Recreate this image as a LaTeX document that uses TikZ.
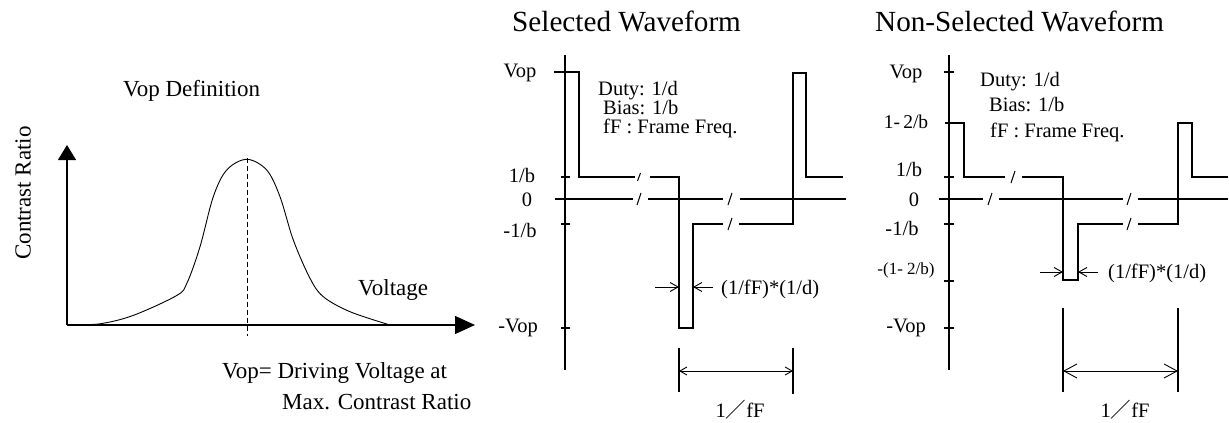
\documentclass[tikz,border=0pt]{standalone}
\usepackage{fontspec}
\setmainfont{Liberation Serif}
\newfontfamily\cjk{Noto Sans CJK SC}
\usetikzlibrary{arrows.meta}
\begin{document}
\begin{tikzpicture}[x=1pt,y=-1pt,
  wave/.style={line width=1.1pt, line join=miter},
  slashmk/.style={line width=1pt},
  txt/.style={inner sep=0pt, anchor=base west},
  ctxt/.style={inner sep=0pt, anchor=base},
  bigf/.style={font=\fontsize{23}{26}\selectfont},
  titf/.style={font=\fontsize{29.2}{32}\selectfont},
  lblf/.style={font=\fontsize{20.5}{23}\selectfont},
  smallf/.style={font=\fontsize{17}{19}\selectfont},
  barb/.style={line width=0.9pt, -{Straight Barb[length=8pt,width=9pt]}},
  dimA/.style={line width=0.9pt, {Straight Barb[length=7pt,width=8pt]}-{Straight Barb[length=7pt,width=8pt]}},
  dimB/.style={line width=0.9pt, {Straight Barb[length=13pt,width=14pt]}-{Straight Barb[length=13pt,width=14pt]}}
]
\useasboundingbox (0,0) rectangle (1229,423);

% ================= LEFT PANEL =================
\coordinate (O) at (67,325);
\coordinate (Ytip) at (67,145);
\coordinate (Xtip) at (475,325);
\draw[line width=1.1pt, -{Triangle[length=15pt,width=18pt]}] (O) -- (Ytip);
\draw[line width=1.1pt, -{Triangle[length=20pt,width=18pt]}] (O) -- (Xtip);
\coordinate (Dtop) at (247,158);
\coordinate (Dbot) at (247,336);
\draw[line width=0.9pt, dash pattern=on 5pt off 3pt] (Dtop) -- (Dbot);
\draw[line width=0.9pt] plot[smooth, tension=0.55] coordinates {
  (75,324.5) (100,323.8) (133,315.5) (176.7,295.5) (187,283) (200,246.7)
  (213.3,196.7) (226.7,170) (246.7,159.3) (266.7,170) (280,196.7)
  (293.3,240) (310,278.3) (323.3,296.7) (350,311.7) (390,325)};
\node[txt,bigf] (vopdef) at (123,96) {Vop Definition};
\node[inner sep=0pt, rotate=90, bigf] (cr) at (23,193) {Contrast Ratio};
\node[txt,bigf] (volt) at (358,295) {Voltage};
\node[txt,bigf] (vopdrv) at (222,378) {Vop= Driving Voltage at};
\node[txt,bigf] (maxcr) at (282,409) {Max. Contrast Ratio};

% ================= MIDDLE PANEL (Selected) =================
\node[txt,titf] (t1) at (512,31) {Selected Waveform};
\draw[wave] (565,55) -- (565,370);
% ticks
\foreach \yy in {177,224,328} \draw[wave] (561,\yy) -- (570,\yy);
% zero line with breaks
\draw[wave] (555,199) -- (633,199);
\draw[wave] (648,199) -- (723,199);
\draw[wave] (740,199) -- (846,199);
\draw[slashmk] (637,205) -- (641,193);
\draw[slashmk] (728,205) -- (732,193);
% waveform
\draw[wave] (554,72) -- (579,72) -- (579,177) -- (635,177);
\draw[slashmk] (637.5,181) -- (640.5,173);
\draw[wave] (650,177) -- (679,177) -- (679,328) -- (693,328) -- (693,224) -- (723,224);
\draw[slashmk] (728,230) -- (732,218);
\draw[wave] (739,224) -- (793,224) -- (793,73) -- (806,73) -- (806,177) -- (843,177);
% labels
\node[ctxt,lblf] (m1) at (520,77) {Vop};
\node[ctxt,lblf] (m2) at (522,182) {1/b};
\node[ctxt,lblf] (m3) at (527,206) {0};
\node[ctxt,lblf] (m4) at (520,237) {-1/b};
\node[ctxt,lblf] (m5) at (518,332) {-Vop};
\node[txt,lblf] (md) at (598,95) {Duty: 1/d};
\node[txt,lblf] (mb) at (603,114) {Bias: 1/b};
\node[txt,lblf] (mf) at (603,133) {fF : Frame Freq.};
\node[txt,lblf] (mp) at (721,294) {(1/fF)*(1/d)};
% pulse width arrows
\coordinate (ma1) at (655,287); \coordinate (ma2) at (679,287);
\coordinate (ma3) at (713,287); \coordinate (ma4) at (693,287);
\draw[barb] (ma1) -- (ma2);
\draw[barb] (ma3) -- (ma4);
% period dimension
\coordinate (mv1t) at (679,348); \coordinate (mv1b) at (679,392);
\coordinate (mv2t) at (793,348); \coordinate (mv2b) at (793,394);
\draw[wave] (mv1t) -- (mv1b);
\draw[wave] (mv2t) -- (mv2b);
\draw[dimA] (679,371) -- (793,371);
\node[ctxt,lblf] (mper) at (740,417) {1{\cjk ／}fF};

% ================= RIGHT PANEL (Non-Selected) =================
\node[txt,titf] (t2) at (875,31) {Non-Selected Waveform};
\draw[wave] (949,55) -- (949,370);
\foreach \yy in {72,177,224,281,328} \draw[wave] (944,\yy) -- (954,\yy);
% zero line
\draw[wave] (939,199) -- (983,199);
\draw[wave] (999,199) -- (1123,199);
\draw[wave] (1138,199) -- (1228,199);
\draw[slashmk] (988,205) -- (992,193);
\draw[slashmk] (1127,205) -- (1131,193);
% waveform
\draw[wave] (945,123) -- (964,123) -- (964,177) -- (1005,177);
\draw[slashmk] (1011,183) -- (1015,171);
\draw[wave] (1022,177) -- (1063,177) -- (1063,280) -- (1078,280) -- (1078,224) -- (1123,224);
\draw[slashmk] (1127,230) -- (1131,218);
\draw[wave] (1138,224) -- (1178,224) -- (1178,123) -- (1192,123) -- (1192,177) -- (1228,177);
% labels
\node[ctxt,lblf] (n1) at (906,78) {Vop};
\node[ctxt,font=\fontsize{19.5}{22}\selectfont] (n2) at (906,128) {1-\,2/b};
\node[ctxt,lblf] (n3) at (909,176) {1/b};
\node[ctxt,lblf] (n4) at (914,206) {0};
\node[ctxt,lblf] (n5) at (902,235) {-1/b};
\node[ctxt,smallf] (n6) at (906,274) {-(1- 2/b)};
\node[ctxt,lblf] (n7) at (906,332) {-Vop};
\node[txt,lblf] (nd) at (980,86) {Duty: 1/d};
\node[txt,lblf] (nb) at (989,111) {Bias: 1/b};
\node[txt,lblf] (nf) at (990,137) {fF : Frame Freq.};
\node[txt,lblf] (np) at (1108,278) {(1/fF)*(1/d)};
\coordinate (na1) at (1040,272); \coordinate (na2) at (1063,272);
\coordinate (na3) at (1098,272); \coordinate (na4) at (1078,272);
\draw[barb] (na1) -- (na2);
\draw[barb] (na3) -- (na4);
\coordinate (nv1t) at (1063,308); \coordinate (nv1b) at (1063,392);
\coordinate (nv2t) at (1178,308); \coordinate (nv2b) at (1178,392);
\draw[wave] (nv1t) -- (nv1b);
\draw[wave] (nv2t) -- (nv2b);
\draw[dimB] (1063,371) -- (1178,371);
\node[ctxt,lblf] (nper) at (1125,417) {1{\cjk ／}fF};
\end{tikzpicture}
\end{document}
